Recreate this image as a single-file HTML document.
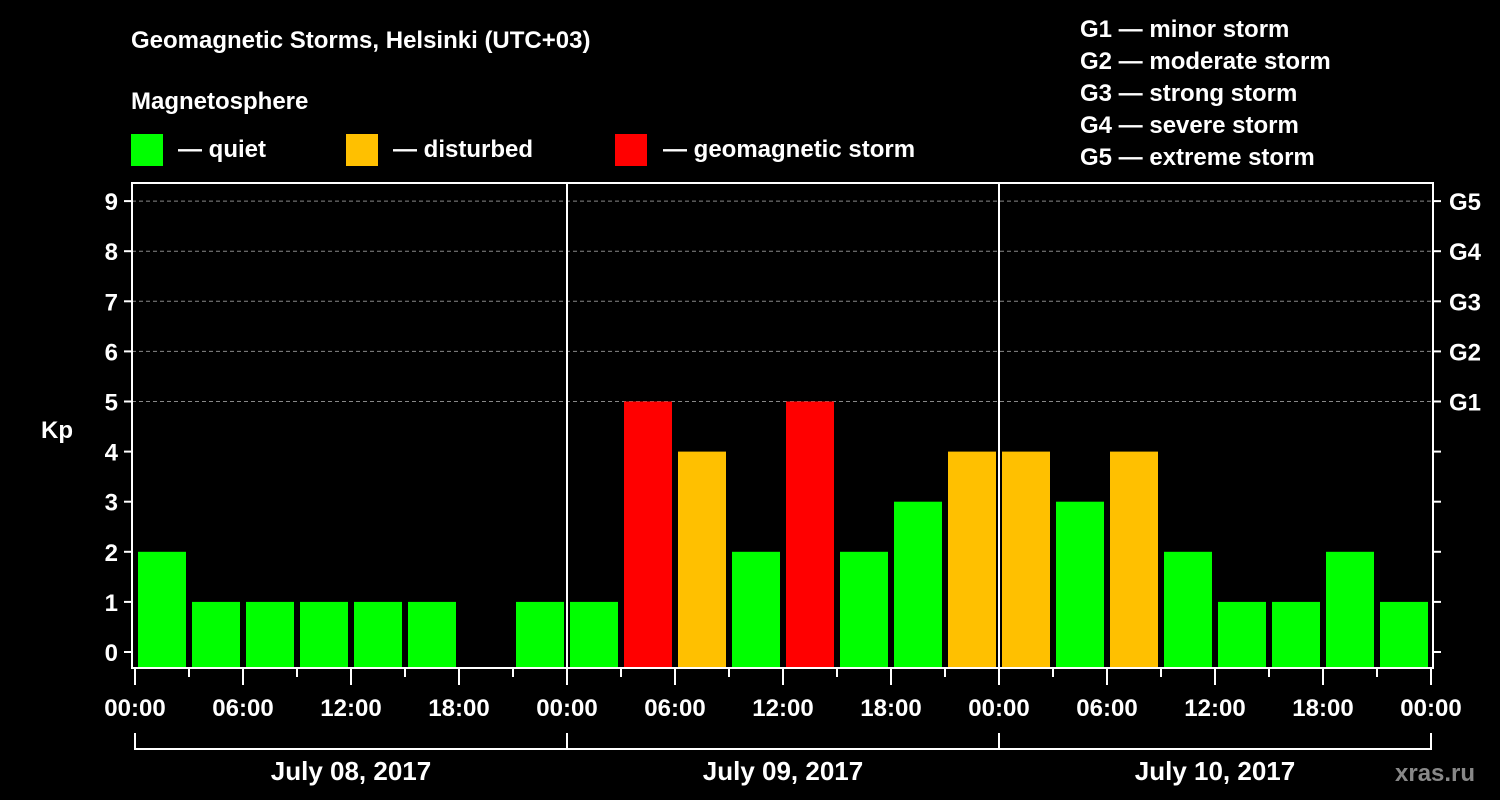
<!DOCTYPE html>
<html><head><meta charset="utf-8"><style>
html,body{margin:0;padding:0;background:#000;}
svg{display:block;font-family:"Liberation Sans",Arial,sans-serif;font-weight:bold;}
</style></head><body>
<svg width="1500" height="800" viewBox="0 0 1500 800">
<g id="hdr" fill="#fff" font-size="24">
<text x="131" y="48">Geomagnetic Storms, Helsinki (UTC+03)</text>
<text x="131" y="109">Magnetosphere</text>
<rect x="131" y="134" width="32" height="32" fill="#00ff00"/>
<text x="178" y="157">— quiet</text>
<rect x="346" y="134" width="32" height="32" fill="#ffc000"/>
<text x="393" y="157">— disturbed</text>
<rect x="615" y="134" width="32" height="32" fill="#ff0000"/>
<text x="663" y="157">— geomagnetic storm</text>
<text x="1080" y="37">G1 — minor storm</text>
<text x="1080" y="69">G2 — moderate storm</text>
<text x="1080" y="101">G3 — strong storm</text>
<text x="1080" y="133">G4 — severe storm</text>
<text x="1080" y="165">G5 — extreme storm</text>
<text x="41" y="438">Kp</text>
<text x="1395" y="781" fill="#888" font-size="24">xras.ru</text>
</g>
<g id="plot"></g>
</svg>
<script>
const kpValues = [2,1,1,1,1,1,0,1, 1,5,4,2,5,2,3,4, 4,3,4,2,1,1,2,1];
const dayLabels = ["July 08, 2017","July 09, 2017","July 10, 2017"];
const hourLabels = ["00:00","06:00","12:00","18:00"];
const yTicks = [0,1,2,3,4,5,6,7,8,9];
const gLabels = ["G1","G2","G3","G4","G5"];

const NS="http://www.w3.org/2000/svg";
const g=document.getElementById('plot');
const L=132,R=1433,T=183,B=668, X0=135, PXH=18;
const y=v=>652-v*50.1;
const x=h=>X0+h*PXH;
function mk(t,a){const e=document.createElementNS(NS,t);for(const k in a)e.setAttribute(k,a[k]);g.appendChild(e);return e;}
// grid
for(let v=5;v<=9;v++){const e=mk('line',{x1:L,x2:R,y1:y(v),y2:y(v),stroke:'#888','stroke-dasharray':'4,3','stroke-width':1});

}
// bars
kpValues.forEach((v,i)=>{if(v<=0)return;
const c=v>=5?'#ff0000':(v>=4?'#ffc000':'#00ff00');
const e=mk('rect',{x:x(i*3)+3,y:y(v),width:48,height:B-y(v),fill:c});

});
// frame
const f=mk('rect',{x:L,y:T,width:R-L,height:B-T,fill:'none',stroke:'#fff','stroke-width':2});


for(let d=1;d<dayLabels.length;d++){const e=mk('line',{x1:x(d*24),x2:x(d*24),y1:T,y2:B,stroke:'#fff','stroke-width':2});

}
// y ticks
yTicks.forEach(v=>{mk('line',{x1:L-8,x2:L,y1:y(v),y2:y(v),stroke:'#fff','stroke-width':2});
mk('line',{x1:R,x2:R+8,y1:y(v),y2:y(v),stroke:'#fff','stroke-width':2});
const t=mk('text',{x:118,y:y(v)+9,fill:'#fff','font-size':24,'text-anchor':'end'});t.textContent=v;

});
gLabels.forEach((s,i)=>{const t=mk('text',{x:1449,y:y(5+i)+9,fill:'#fff','font-size':24});t.textContent=s;

});
// x ticks
for(let h=0;h<=72;h+=3){const major=h%6===0;mk('line',{x1:x(h),x2:x(h),y1:B,y2:major?B+17:B+9,stroke:'#fff','stroke-width':2});}
for(let h=0;h<=72;h+=6){const t=mk('text',{x:x(h),y:716,fill:'#fff','font-size':24,'text-anchor':'middle'});
t.textContent=hourLabels[(h/6)%4];

}
// day brackets
dayLabels.forEach((s,d)=>{const a=x(d*24),b=x(d*24+24);
mk('path',{d:`M${a},733V749H${b}`+(d===dayLabels.length-1?`V733`:''),fill:'none',stroke:'#fff','stroke-width':2});
const t=mk('text',{x:(a+b)/2,y:780,fill:'#fff','font-size':26,'text-anchor':'middle'});t.textContent=s;

});
mk('line',{x1:x(24),x2:x(24),y1:733,y2:749,stroke:'#fff','stroke-width':2});
mk('line',{x1:x(48),x2:x(48),y1:733,y2:749,stroke:'#fff','stroke-width':2});
</script>
</body></html>
